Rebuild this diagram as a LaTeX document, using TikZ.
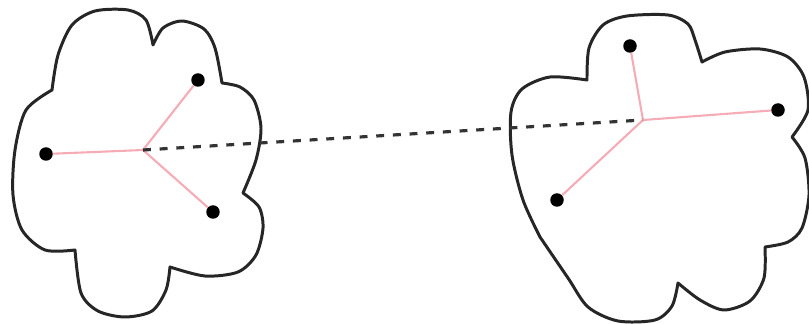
\documentclass[tikz,border=0pt]{standalone}
\usetikzlibrary{calc}

\definecolor{linkpink}{RGB}{246,172,182}

\begin{document}
\begin{tikzpicture}[
      x=0.02cm, y=-0.02cm,
      cloud/.style={draw=black!85, line width=1.7pt, line join=round},
      dot/.style={circle, fill=black, inner sep=0pt, minimum size=0.27cm},
      link/.style={draw=linkpink, line width=1.2pt},
      bridge/.style={draw=black!80, line width=1.8pt, dash pattern=on 4.5pt off 5pt}
    ]
    \useasboundingbox (0,0) rectangle (809,324);

    % left cluster
    \draw[cloud] plot[smooth] coordinates {(153,45) (163,28) (182,21) (204,29) (215,48) (222,83)}
      -- plot[smooth] coordinates {(222,83) (240,87) (254,100) (261,128) (256,160) (243,193)}
      -- plot[smooth] coordinates {(243,193) (259,207) (263,228) (256,255) (238,272) (205,276) (170,267)}
      -- plot[smooth] coordinates {(170,267) (166,290) (152,311) (125,317) (98,311) (81,293) (75,250)}
      -- plot[smooth] coordinates {(75,250) (45,250) (22,230) (13,195) (15,150) (26,110) (52,90)}
      -- plot[smooth] coordinates {(52,90) (58,55) (72,25) (95,11) (128,10) (146,20) (153,45)}
      -- cycle;

    \coordinate (lhub) at (143,150);
    \node[dot] (lleft) at (46,154) {};
    \node[dot] (ltop) at (198,80) {};
    \node[dot] (lbot) at (213,212) {};

    % right cluster
    \draw[cloud] plot[smooth] coordinates {(587,80) (589,48) (603,25) (627,16) (668,15) (688,24) (695,40) (702,62)}
      -- plot[smooth] coordinates {(702,62) (725,52) (760,49) (788,57) (804,77) (808,110) (792,137)}
      -- plot[smooth] coordinates {(792,137) (805,158) (809,195) (802,228) (788,242) (765,247)}
      -- plot[smooth] coordinates {(765,247) (764,278) (750,301) (724,310) (700,300) (678,283)}
      -- plot[smooth] coordinates {(678,283) (672,306) (655,320) (618,321) (588,307) (568,278) (540,237)}
      -- plot[smooth] coordinates {(540,237) (523,200) (512,155) (511,112) (522,89) (550,77) (587,80)}
      -- cycle;

    \coordinate (rhub) at (643,120);
    \node[dot] (rtop) at (630,46) {};
    \node[dot] (rright) at (778,110) {};
    \node[dot] (rleft) at (557,200) {};

    \draw[link] (lhub) -- (lleft);
    \draw[link] (lhub) -- (ltop);
    \draw[link] (lhub) -- (lbot);
    \draw[link] (rhub) -- (rtop);
    \draw[link] (rhub) -- (rright);
    \draw[link] (rhub) -- (rleft);

    \draw[bridge] (lhub) -- (rhub);
  \end{tikzpicture}
\end{document}
